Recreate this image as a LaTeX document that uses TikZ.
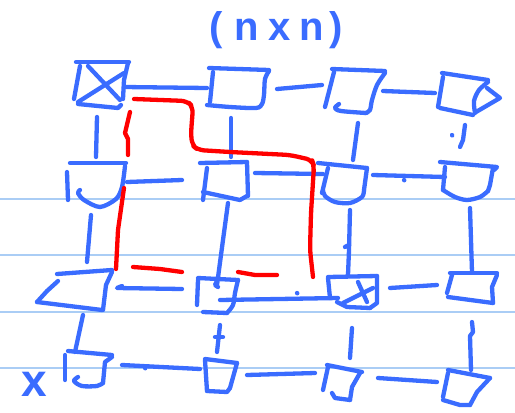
\documentclass[tikz,border=0pt]{standalone}
\usepackage{fontspec}
\setmainfont{Liberation Sans}
\definecolor{penblue}{RGB}{58,108,255}
\definecolor{penred}{RGB}{255,0,0}
\definecolor{rulecol}{RGB}{170,205,245}
\tikzset{
  pen/.style={draw=penblue, line width=4.3pt, line cap=round, line join=round},
  redpen/.style={draw=penred, line width=4.3pt, line cap=round, line join=round},
  ruled/.style={draw=rulecol, line width=1.6pt},
  hand/.style={text=penblue, font=\bfseries\fontsize{40}{44}\selectfont, inner sep=0pt}
}
\begin{document}
\begin{tikzpicture}[x=1pt,y=-1pt]
\useasboundingbox[fill=white] (0,0) rectangle (515,413);
% ruled lines
\foreach \yy in {199,255,312,368} \draw[ruled] (0,\yy) -- (515,\yy);

% title and label
\node[hand, anchor=base] (title) at (276,40) {(\hspace{12pt}n\hspace{9pt}x\hspace{9pt}n\hspace{5pt})};
\node[hand, anchor=base, font=\bfseries\fontsize{46}{50}\selectfont] (xlabel) at (34,396) {x};

% ---------- row 1 ----------
% box 11 (crossed)
\draw[pen] (76,62) -- (129,62);
\draw[pen] (80,66) -- (74,99);
\draw[pen] (78,104) -- (118,108) -- (121,105);
\draw[pen] (128,63) -- (124,80) -- (123,99);
\draw[pen] (88,66) -- (120,100);
\draw[pen] (124,73) -- (78,102);
% connector 11-12
\draw[pen] (124,87) -- (207,88);
% box 12
\draw[pen] (209,68) -- (269,70);
\draw[pen] (213,72) -- (210,102);
\draw[pen] plot[smooth] coordinates {(269,71) (265,79) (264,95) (262,104) (256,108) (230,107) (207,105)};
% connector 12-13
\draw[pen] (277,89) -- (322,85);
% box 13
\draw[pen] (332,69) -- (385,71);
\draw[pen] (334,72) -- (325,107);
\draw[pen] plot[smooth] coordinates {(385,73) (377,85) (372,100) (370,110) (366,113)};
\draw[pen] plot[smooth] coordinates {(339,104) (335,108) (341,111) (366,113)};
% connector 13-14
\draw[pen] (383,91) -- (435,93);
% box 14
\draw[pen] (442,73) -- (488,80);
\draw[pen] (443,77) -- (438,107);
\draw[pen] (440,108) -- (473,115);
\draw[pen] plot[smooth] coordinates {(488,82) (479,90) (474,101) (475,113)};
\draw[pen] (487,88) -- (500,98) -- (476,112);

% verticals row 1-2
\draw[pen] (97,117) -- (96,157);
\draw[pen] (231,118) -- (231,157);
\draw[pen] (358,123) -- (353,160);
\draw[pen] (452,135) -- (452.2,135.5);
\draw[pen] (465,125) -- (463,140) -- (460,147);

% ---------- row 2 ----------
% box 21
\draw[pen] (70,163) -- (126,163);
\draw[pen] (67,172) -- (68,200);
\draw[pen] plot[smooth] coordinates {(80,190) (78,193) (84,200) (100,207) (116,199) (122,187) (125,166)};
% connector 21-22
\draw[pen] (127,182) -- (182,180);
% box 22
\draw[pen] (200,163) -- (247,162);
\draw[pen] (207,168) -- (203,200);
\draw[pen] (203,192) -- (240,200) -- (247,196);
\draw[pen] (247,162) -- (248,196);
% connector 22-23
\draw[pen] (255,173) -- (323,174);
% box 23
\draw[pen] (318,163) -- (367,168);
\draw[pen] (328,168) -- (322,193);
\draw[pen] plot[smooth] coordinates {(323,190) (325,196) (335,202) (350,203) (362,197) (364,190)};
\draw[pen] (367,168) -- (364,190);
% connector 23-24
\draw[pen] (373,175) -- (445,177);
\draw[pen] (404,180) -- (404.3,180.3);
% box 24
\draw[pen] (440,162) -- (497,167) -- (494,170);
\draw[pen] (445,167) -- (443,190);
\draw[pen] plot[smooth] coordinates {(443,190) (455,197) (467,200) (480,197) (488,191)};
\draw[pen] (493,168) -- (490,185) -- (488,191);

% verticals row 2-3
\draw[pen] (91,215) -- (87,262);
\draw[pen] (228,203) -- (223,240) -- (217,285);
\draw[pen] (350,210) -- (349,250) -- (348,275);
\draw[pen] (345,247) -- (349,245);
\draw[pen] (470,208) -- (472,272);

% ---------- row 3 ----------
% box 31
\draw[pen] (57,274) -- (112,270);
\draw[pen] (58,281) -- (47,291) -- (37,302);
\draw[pen] (37,302) -- (102,310);
\draw[pen] (112,272) -- (106,285) -- (103,310);
% connector 31-32
\draw[pen] (122,286) -- (117,288) -- (182,289);
% box 32
\draw[pen] (198,278) -- (238,280);
\draw[pen] (198,280) -- (197,305);
\draw[pen] plot[smooth] coordinates {(238,280) (235,293) (233,305) (227,313)};
\draw[pen] (203,312) -- (227,313);
\draw[pen] (217,281) -- (215,285) -- (218,287);
% connector 32-33
\draw[pen] (220,300) -- (338,298);
\draw[pen] (297,293) -- (297.3,293.3);
% box 33 (crossed)
\draw[pen] (328,277) -- (377,276);
\draw[pen] (328,278) -- (330,298);
\draw[pen] (377,276) -- (377,303) -- (370,308);
\draw[pen] (337,302) -- (347,307) -- (370,308);
\draw[pen] (358,282) -- (367,302);
\draw[pen] (343,303) -- (373,288);
% connector 33-34
\draw[pen] (390,288) -- (437,285);
% box 34
\draw[pen] (450,273) -- (497,273);
\draw[pen] (452,275) -- (447,293);
\draw[pen] (448,297) -- (493,303);
\draw[pen] (497,275) -- (492,287) -- (493,303);

% verticals row 3-4
\draw[pen] (83,315) -- (75,352);
\draw[pen] (220,325) -- (217,352);
\draw[pen] (215,337) -- (223,337);
\draw[pen] (352,328) -- (350,358);
\draw[pen] (472,322) -- (473,332) -- (470,336) -- (471,370);

% ---------- row 4 ----------
% box 41
\draw[pen] (68,351) -- (112,355);
\draw[pen] (65,355) -- (65,380);
\draw[pen] (112,357) -- (105,362) -- (103,383);
\draw[pen] plot[smooth] coordinates {(78,377) (74,381) (82,386) (97,386) (103,383)};
% connector 41-42
\draw[pen] (122,365) -- (200,369);
\draw[pen] (145,368) -- (145.3,368.3);
% box 42
\draw[pen] (205,359) -- (237,363);
\draw[pen] (205,360) -- (207,391);
\draw[pen] (237,363) -- (230,388);
\draw[pen] (207,391) -- (227,392) -- (230,388);
% connector 42-43
\draw[pen] (247,375) -- (315,373);
% box 43
\draw[pen] (327,365) -- (362,372);
\draw[pen] (328,367) -- (323,390);
\draw[pen] (360,373) -- (352,387) -- (350,400);
\draw[pen] (332,393) -- (335,398) -- (350,400);
% connector 43-44
\draw[pen] (378,378) -- (437,382);
% box 44
\draw[pen] (448,370) -- (490,378);
\draw[pen] (448,373) -- (443,397);
\draw[pen] (490,378) -- (477,392) -- (470,405);
\draw[pen] (443,400) -- (460,405) -- (470,405);

% ---------- red path ----------
\draw[redpen, rounded corners=6pt] (134,99) -- (187,101) -- (193,107) -- (191,133) -- (192,145) -- (198,150) -- (230,152) -- (290,155) -- (312,160) -- (314,166) -- (311,213) -- (310,250) -- (313,277);
\draw[redpen] (130,112) -- (125,133) -- (128,139) -- (128,155);
\draw[redpen] (124,188) -- (118,230) -- (116,269);
\draw[redpen] (133,267) -- (160,269) -- (182,272);
\draw[redpen] (238,272) -- (255,275) -- (277,275);
\end{tikzpicture}
\end{document}
